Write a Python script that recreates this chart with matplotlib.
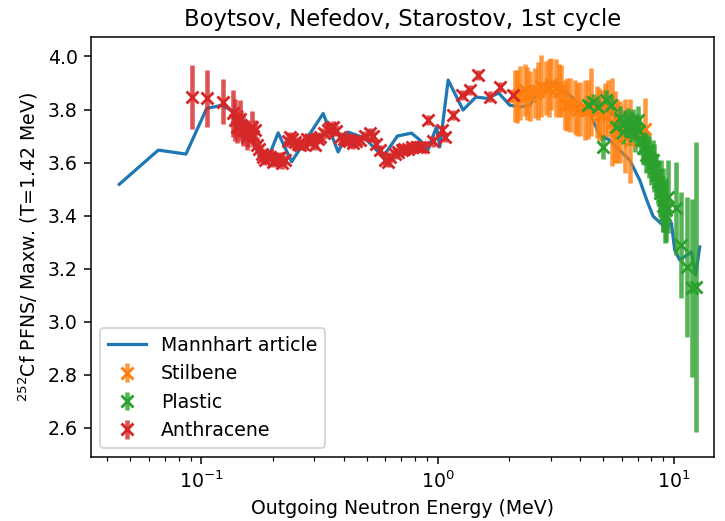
import matplotlib
matplotlib.use("Agg")
import matplotlib.pyplot as plt
import numpy as np

# Mannhart evaluation (ratio to Maxwellian, T=1.42 MeV)
mann_E = [0.0449, 0.0657, 0.0860, 0.1052, 0.1219, 0.136, 0.150, 0.1768, 0.1887,
          0.2112, 0.2406, 0.3273, 0.3788, 0.4164, 0.4912, 0.5872, 0.6744, 0.7741,
          0.8393, 0.907, 0.9874, 1.0197, 1.106, 1.279, 1.448, 1.612, 1.811, 2.016,
          2.222, 2.449, 2.700, 2.976, 3.186, 3.734, 4.467, 4.842, 5.337, 5.713,
          6.484, 7.147, 7.651, 8.137, 8.683, 9.268, 9.731, 10.05, 10.55, 11.82,
          12.33, 12.82]
mann_R = [3.518, 3.647, 3.632, 3.804, 3.816, 3.794, 3.747, 3.628, 3.603,
          3.712, 3.603, 3.785, 3.640, 3.715, 3.692, 3.622, 3.700, 3.711,
          3.685, 3.647, 3.735, 3.659, 3.911, 3.798, 3.847, 3.842, 3.862, 3.816,
          3.810, 3.816, 3.879, 3.904, 3.900, 3.842, 3.772, 3.703, 3.685, 3.658,
          3.609, 3.534, 3.459, 3.398, 3.375, 3.352, 3.373, 3.270, 3.233, 3.263,
          3.176, 3.282]

# Stilbene detector
stil_E = [2.116, 2.17, 2.222, 2.333, 2.39, 2.449, 2.572, 2.66, 2.745, 2.882,
          2.95, 3.025, 3.177, 3.26, 3.334, 3.444, 3.53, 3.615, 3.796, 3.89,
          3.985, 4.184, 4.32, 4.467, 4.702, 4.82, 4.936, 5.08, 5.234, 5.442,
          5.603, 5.75, 5.884, 6.2, 6.484, 7.505]
stil_R = [3.850, 3.850, 3.861, 3.873, 3.860, 3.850, 3.861, 3.870, 3.887, 3.880,
          3.880, 3.895, 3.880, 3.870, 3.869, 3.816, 3.820, 3.816, 3.808, 3.800,
          3.801, 3.797, 3.800, 3.827, 3.790, 3.780, 3.778, 3.800, 3.804, 3.752,
          3.733, 3.720, 3.714, 3.700, 3.680, 3.726]
stil_err = [0.098, 0.100, 0.102, 0.098, 0.100, 0.094, 0.094, 0.110, 0.117, 0.102,
            0.110, 0.098, 0.109, 0.100, 0.098, 0.094, 0.100, 0.102, 0.102, 0.100,
            0.102, 0.113, 0.110, 0.128, 0.098, 0.100, 0.094, 0.100, 0.106, 0.166,
            0.136, 0.120, 0.117, 0.140, 0.158, 0.117]

# Plastic detector
plas_E = [4.319, 4.537, 4.762, 5.0, 5.168, 5.427, 5.697, 5.884, 6.075, 6.2,
          6.280, 6.379, 6.5, 6.592, 6.696, 6.8, 6.922, 7.031, 7.1, 7.267,
          7.382, 7.45, 7.629, 7.749, 7.85, 8.009, 8.136, 8.25, 8.408, 8.541,
          8.683, 8.8, 8.968, 9.0, 9.117, 9.25, 9.414, 10.15, 10.72, 11.33,
          11.94, 12.41]
plas_R = [3.816, 3.829, 3.810, 3.659, 3.834, 3.816, 3.734, 3.767, 3.716, 3.750,
          3.730, 3.760, 3.720, 3.741, 3.748, 3.700, 3.729, 3.760, 3.720, 3.685,
          3.654, 3.660, 3.628, 3.647, 3.620, 3.590, 3.609, 3.580, 3.552, 3.526,
          3.484, 3.500, 3.436, 3.460, 3.402, 3.420, 3.471, 3.428, 3.289, 3.207,
          3.126, 3.131]
plas_err = [0.030, 0.030, 0.030, 0.045, 0.038, 0.038, 0.045, 0.045, 0.045, 0.050,
            0.045, 0.045, 0.055, 0.053, 0.053, 0.060, 0.053, 0.053, 0.060, 0.057,
            0.060, 0.070, 0.068, 0.068, 0.080, 0.075, 0.075, 0.090, 0.083, 0.083,
            0.090, 0.110, 0.098, 0.120, 0.106, 0.120, 0.138, 0.175, 0.201, 0.264,
            0.336, 0.547]

# Anthracene detector
anth_E = [0.0909, 0.1052, 0.1231, 0.1363, 0.138, 0.1408, 0.1455, 0.147, 0.1502,
          0.1553, 0.158, 0.1631, 0.166, 0.1684, 0.1712, 0.175, 0.1797, 0.183,
          0.1856, 0.19, 0.1949, 0.2012, 0.205, 0.2112, 0.215, 0.2183, 0.225,
          0.232, 0.2367, 0.242, 0.2485, 0.255, 0.2609, 0.27, 0.28, 0.2875,
          0.295, 0.3019, 0.31, 0.3170, 0.33, 0.3438, 0.35, 0.3608, 0.37, 0.3852,
          0.40, 0.4111, 0.42, 0.4385, 0.45, 0.4680, 0.49, 0.5160, 0.53, 0.55,
          0.5687, 0.60, 0.6165, 0.63, 0.6579, 0.68, 0.7023, 0.72, 0.7490, 0.78,
          0.8126, 0.84, 0.8666, 0.9099, 0.95, 1.0366, 1.0705, 1.1605, 1.2596,
          1.366, 1.480, 1.659, 1.829, 2.082]
anth_R = [3.848, 3.842, 3.829, 3.785, 3.760, 3.735, 3.766, 3.740, 3.722,
          3.697, 3.710, 3.735, 3.700, 3.722, 3.666, 3.650, 3.634, 3.620,
          3.609, 3.630, 3.622, 3.603, 3.610, 3.616, 3.620, 3.597, 3.610,
          3.680, 3.697, 3.690, 3.678, 3.670, 3.666, 3.670, 3.690, 3.685,
          3.680, 3.666, 3.690, 3.697, 3.710, 3.722, 3.730, 3.735, 3.720, 3.697,
          3.690, 3.685, 3.680, 3.672, 3.680, 3.685, 3.700, 3.710, 3.700, 3.670,
          3.647, 3.610, 3.603, 3.620, 3.634, 3.640, 3.647, 3.650, 3.653, 3.660,
          3.659, 3.660, 3.659, 3.760, 3.680, 3.722, 3.697, 3.779, 3.854,
          3.873, 3.930, 3.848, 3.885, 3.854]
anth_err = [0.120, 0.107, 0.085, 0.090, 0.080, 0.060, 0.070, 0.060, 0.060,
            0.050, 0.050, 0.060, 0.040, 0.040, 0.030, 0.030, 0.020, 0.020,
            0.020, 0.020, 0.020, 0.020, 0.020, 0.020, 0.020, 0.020, 0.020,
            0.020, 0.020, 0.020, 0.020, 0.020, 0.020, 0.020, 0.020, 0.020,
            0.020, 0.020, 0.020, 0.020, 0.020, 0.020, 0.020, 0.020, 0.020, 0.020,
            0.020, 0.020, 0.020, 0.020, 0.020, 0.020, 0.020, 0.020, 0.020, 0.020,
            0.020, 0.020, 0.020, 0.020, 0.020, 0.020, 0.020, 0.020, 0.020, 0.020,
            0.020, 0.020, 0.020, 0.020, 0.020, 0.020, 0.020, 0.020, 0.020,
            0.020, 0.020, 0.020, 0.020, 0.020]

DPI = 136
fig = plt.figure(figsize=(725 / DPI, 521 / DPI), dpi=DPI)
ax = fig.add_axes([0.1255, 0.1228, 0.859, 0.806])

ax.plot(mann_E, mann_R, color="C0", lw=1.7, label="Mannhart article", zorder=2)

for E, R, err, col, lab in [(stil_E, stil_R, stil_err, "C1", "Stilbene"),
                            (plas_E, plas_R, plas_err, "C2", "Plastic"),
                            (anth_E, anth_R, anth_err, "C3", "Anthracene")]:
    eb = ax.errorbar(E, R, yerr=err, fmt="x", color=col, ms=6.5, mew=1.5,
                     elinewidth=2.4, capsize=0, label=lab, zorder=3)
    for lc in eb[2]:
        lc.set_alpha(0.8)

ax.set_xscale("log")
ax.set_xlim(0.0341, 14.7)
ax.set_ylim(2.49, 4.073)
ax.set_yticks(np.arange(2.6, 4.01, 0.2))
ax.set_xlabel("Outgoing Neutron Energy (MeV)")
ax.set_ylabel("$^{252}$Cf PFNS/ Maxw. (T=1.42 MeV)")
ax.set_title("Boytsov, Nefedov, Starostov, 1st cycle")
ax.legend(loc="lower left")

fig.savefig("out.png", dpi=DPI)
